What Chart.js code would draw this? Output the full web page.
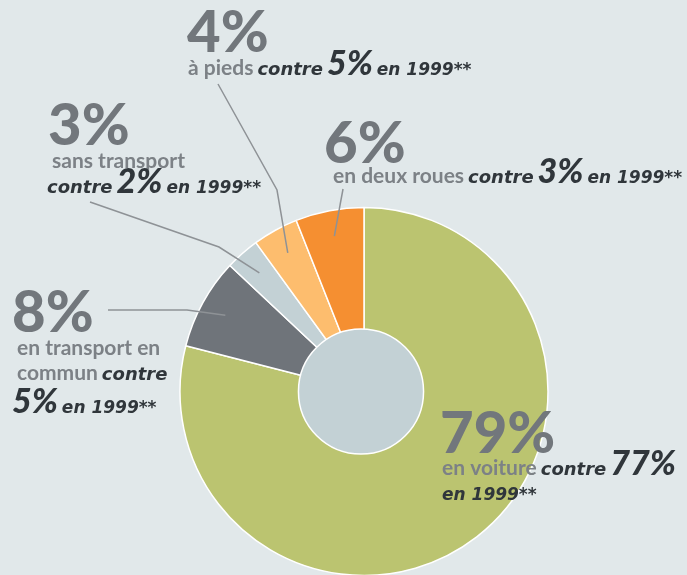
<!DOCTYPE html>
<html>
<head>
<meta charset="utf-8">
<script src="https://cdn.jsdelivr.net/npm/chart.js@4"></script>
<style>
  html, body { margin: 0; padding: 0; background: #e1e8ea; overflow: hidden; }
  #wrap { width: 687px; height: 575px; position: relative; }
</style>
</head>
<body>
<div id="wrap"><canvas id="myChart" width="687" height="575"></canvas></div>
<script>
// donnees
const categories = ['en voiture', 'en transport en commun', 'sans transport', 'à pieds', 'en deux roues']
const shares = [79, 8, 3, 4, 6]
const shares1999 = [77, 5, 2, 5, 3]
const sliceColors = ['#bbc470', '#6f747a', '#c3d1d5', '#fdbd6e', '#f58f31']

const grey = '#72777c'
const labelGrey = '#7c8186'
const dark = '#30363b'
const F = 'Lato, "Open Sans", sans-serif'
const fBig = '900 58px ' + F
const fCat = 'bold 21px ' + F
const fIt = 'oblique bold 18px "DejaVu Sans", sans-serif'
const fIt2 = 'oblique bold 17px "DejaVu Sans", sans-serif'
const fItBig = 'italic 900 34px ' + F

// morceaux de texte pour chaque etiquette
function seg(t, font, color) { return { t: t, font: font, color: color } }
function contre(i) { return seg('contre', fIt, dark) }
function pct99(i) { return seg(shares1999[i] + '%', fItBig, dark) }
function en1999() { return seg('en 1999**', fIt2, dark) }

// placement des etiquettes (x, y = ligne de base du grand pourcentage)
const labelLayout = [
  { i: 0, x: 440, y: 453, lines: [
      { x: 442, y: 475, segs: i => [seg(categories[i], fCat, labelGrey), contre(i), pct99(i)] },
      { x: 442, y: 500, segs: i => [en1999()] }],
    bends: [] },
  { i: 1, x: 12, y: 332, lines: [
      { x: 17, y: 355, segs: i => [seg(categories[i].split(' ').slice(0, 3).join(' '), fCat, labelGrey)] },
      { x: 17, y: 380, segs: i => [seg(categories[i].split(' ').slice(3).join(' '), fCat, labelGrey), contre(i)] },
      { x: 12, y: 413, segs: i => [pct99(i), en1999()] }],
    bends: [[108, 310], [187, 310]] },
  { i: 2, x: 48, y: 145, lines: [
      { x: 52, y: 168, segs: i => [seg(categories[i], fCat, labelGrey)] },
      { x: 47, y: 193, segs: i => [contre(i), pct99(i), en1999()] }],
    bends: [[90, 202], [219, 247]] },
  { i: 3, x: 187, y: 52, lines: [
      { x: 188, y: 75, segs: i => [seg(categories[i], fCat, labelGrey), contre(i), pct99(i), en1999()] }],
    bends: [[218, 84], [277, 190]] },
  { i: 4, x: 324, y: 163, lines: [
      { x: 333, y: 183, segs: i => [seg(categories[i], fCat, labelGrey), contre(i), pct99(i), en1999()] }],
    bends: [[343, 189]] }
]

// disque central + traits + textes
const labelPlugin = {
  id: 'labels',
  afterDatasetsDraw(chart) {
    const ctx = chart.ctx
    const arcs = chart.getDatasetMeta(0).data
    const c = arcs[0]
    ctx.save()
    ctx.beginPath()
    ctx.arc(c.x - 3, c.y, c.outerRadius * 0.34, 0, Math.PI * 2)
    ctx.fillStyle = '#c3d1d5'
    ctx.fill()
    ctx.lineWidth = 1.5
    ctx.strokeStyle = '#ffffff'
    ctx.stroke()
    ctx.restore()
  },
  afterDraw(chart) {
    const ctx = chart.ctx
    const arcs = chart.getDatasetMeta(0).data
    ctx.save()
    // traits de rappel
    labelLayout.forEach(l => {
      if (!l.bends.length) return
      const a = arcs[l.i]
      const mid = (a.startAngle + a.endAngle) / 2
      const r = a.outerRadius * 0.86
      ctx.beginPath()
      ctx.moveTo(l.bends[0][0], l.bends[0][1])
      for (let k = 1; k < l.bends.length; k++) ctx.lineTo(l.bends[k][0], l.bends[k][1])
      ctx.lineTo(a.x + Math.cos(mid) * r, a.y + Math.sin(mid) * r)
      ctx.strokeStyle = '#8e9296'
      ctx.lineWidth = 1.5
      ctx.stroke()
    })
    // textes
    ctx.textBaseline = 'alphabetic'
    ctx.textAlign = 'left'
    labelLayout.forEach(l => {
      ctx.font = fBig
      ctx.fillStyle = grey
      ctx.fillText(shares[l.i] + '%', l.x, l.y)
      l.lines.forEach(line => {
        let x = line.x
        line.segs(l.i).forEach(s => {
          ctx.font = s.font
          ctx.fillStyle = s.color
          ctx.fillText(s.t, x, line.y)
          x += ctx.measureText(s.t).width + 4
        })
      })
    })
    ctx.restore()
  }
}

const ctx = document.getElementById('myChart').getContext('2d')
const myChart = new Chart(ctx, {
  type: 'pie',
  data: {
    labels: categories,
    datasets: [{
      data: shares,
      backgroundColor: sliceColors,
      borderColor: '#ffffff',
      borderWidth: 1.5
    }]
  },
  options: {
    responsive: false,
    animation: false,
    devicePixelRatio: 1,
    radius: 184,
    layout: { padding: { left: 180, right: 139, top: 208, bottom: 0 } },
    plugins: {
      legend: { display: false },
      tooltip: { enabled: false }
    }
  },
  plugins: [labelPlugin]
})
</script>
</body>
</html>
